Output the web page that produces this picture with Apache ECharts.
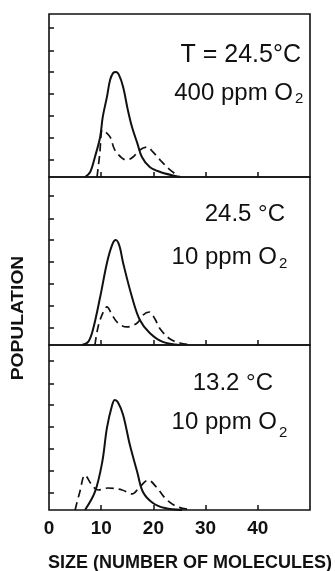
<!DOCTYPE html>
<html>
<head>
<meta charset="utf-8">
<script src="https://cdn.jsdelivr.net/npm/echarts@6/dist/echarts.min.js"></script>
<style>
  html, body { margin: 0; padding: 0; background: #fff; }
  #chart { width: 335px; height: 571px; }
</style>
</head>
<body>
<div id="chart"></div>
<script>
// size (molecules) vs population (arbitrary units, 1 unit = one y tick)
const topSolid = [[6.9,0],[7.9,0.23],[8.8,0.91],[9.8,1.82],[10.3,2.73],[11.1,3.64],[11.7,4.41],[12.3,4.73],[12.8,4.77],[13.4,4.64],[14.2,4.09],[15.1,3.05],[15.9,2.27],[16.9,1.55],[17.8,0.91],[19.3,0.45],[21.3,0.23],[25.1,0]];
const topDashed = [[9.2,0],[9.7,1.0],[10.2,2.14],[10.6,2.1],[11.7,1.82],[12.6,1.23],[14.0,0.86],[14.9,0.77],[16.1,0.91],[17.4,1.23],[18.8,1.36],[19.9,1.14],[21.3,0.77],[23.2,0.32],[25.1,0]];

const midSolid = [[6.3,0],[7.5,0.14],[8.4,0.68],[9.8,2.18],[11.1,3.73],[12.1,4.55],[12.8,4.77],[13.5,4.5],[14.2,3.73],[15.9,2.18],[17.4,1.14],[19.3,0.55],[21.8,0.14],[25.1,0]];
const midDashed = [[8.8,0],[9.4,0.82],[10.3,1.45],[11.1,1.73],[12.1,1.36],[13.2,1.0],[14.9,0.82],[16.9,1.0],[18.0,1.36],[19.2,1.5],[20.3,1.18],[21.3,0.73],[23.2,0.27],[25.1,0.09],[27.4,0]];

const botSolid = [[6.9,0],[8.8,0.82],[10.2,2.18],[11.1,3.73],[12.1,4.77],[12.6,5.0],[13.2,4.9],[14.2,4.32],[15.5,2.95],[16.9,1.73],[18.0,0.82],[19.9,0.32],[22.2,0.09],[25.5,0]];
const botDashed = [[5.0,0],[5.9,0.82],[6.9,1.59],[8.2,1.14],[9.4,0.91],[11.3,1.0],[14.0,0.91],[15.9,0.73],[17.4,1.05],[19.0,1.36],[20.7,1.0],[22.6,0.45],[24.7,0.14],[27.4,0]];

const xTicks = [10, 20, 30, 40];
const xLabels = [0, 10, 20, 30, 40];
const yTicks = [0.78, 1.77, 2.77, 3.77, 4.77, 5.76, 6.77];
const yMax = [7.41, 7.64, 7.5];

const panels = [
  { solid: topSolid, dashed: topDashed },
  { solid: midSolid, dashed: midDashed },
  { solid: botSolid, dashed: botDashed }
];

const grids = [
  { left: 49, top: 14, width: 261, height: 163 },
  { left: 49, top: 177, width: 261, height: 168 },
  { left: 49, top: 345, width: 261, height: 165 }
];

const ink = '#111';
const txtFont = '"Liberation Sans", Arial, sans-serif';

const chart = echarts.init(document.getElementById('chart'), null, { renderer: 'canvas' });

const xAxes = grids.map((g, i) => ({
  type: 'value', gridIndex: i, min: 0, max: 50,
  axisLine: { show: false },
  splitLine: { show: false },
  axisTick: { show: true, inside: true, length: 5, customValues: xTicks, lineStyle: { color: ink, width: 1.5 } },
  axisLabel: {
    show: i === 2, customValues: xLabels, margin: 9,
    color: ink, fontSize: 19, fontWeight: 'bold', fontFamily: txtFont
  }
}));

const yAxes = grids.map((g, i) => ({
  type: 'value', gridIndex: i, min: 0, max: yMax[i],
  axisLine: { show: false },
  splitLine: { show: false },
  axisTick: { show: true, inside: true, length: 5, customValues: yTicks, lineStyle: { color: ink, width: 1.5 } },
  axisLabel: { show: false }
}));

const series = [];
panels.forEach((p, i) => {
  series.push({
    type: 'line', xAxisIndex: i, yAxisIndex: i, data: p.solid,
    smooth: 0.35, showSymbol: false, silent: true,
    lineStyle: { color: ink, width: 2 }
  });
  series.push({
    type: 'line', xAxisIndex: i, yAxisIndex: i, data: p.dashed,
    smooth: 0.35, showSymbol: false, silent: true,
    lineStyle: { color: ink, width: 1.7, type: [8, 5] }
  });
});

function label(text, x, y, size, align) {
  return {
    type: 'text', x: x, y: y, silent: true,
    style: { text: text, fill: ink, font: size + 'px ' + txtFont, align: align, verticalAlign: 'middle' }
  };
}

const graphics = [
  label('T = 24.5°C', 301, 55, 25, 'right'),
  label('400 ppm O', 293, 93, 24, 'right'),
  label('2', 295, 99, 15, 'left'),
  label('24.5 °C', 285, 214, 24, 'right'),
  label('10 ppm O', 277, 257, 24, 'right'),
  label('2', 279, 264, 15, 'left'),
  label('13.2 °C', 273, 383, 24, 'right'),
  label('10 ppm O', 277, 422, 24, 'right'),
  label('2', 279, 433, 15, 'left'),
  {
    type: 'text', x: 19, y: 318, rotation: Math.PI / 2, scaleX: 1.2, silent: true,
    style: { text: 'POPULATION', fill: ink, font: 'bold 16px ' + txtFont, align: 'center', verticalAlign: 'middle' }
  },
  {
    type: 'text', x: 190, y: 563, silent: true,
    style: { text: 'SIZE (NUMBER OF MOLECULES)', fill: ink, font: 'bold 18px ' + txtFont, align: 'center', verticalAlign: 'middle' }
  }
];

chart.setOption({
  animation: false,
  backgroundColor: '#fff',
  grid: grids.map(g => Object.assign({ show: true, borderColor: ink, borderWidth: 1.6, backgroundColor: 'transparent' }, g)),
  xAxis: xAxes,
  yAxis: yAxes,
  series: series,
  graphic: graphics
});
</script>
</body>
</html>
